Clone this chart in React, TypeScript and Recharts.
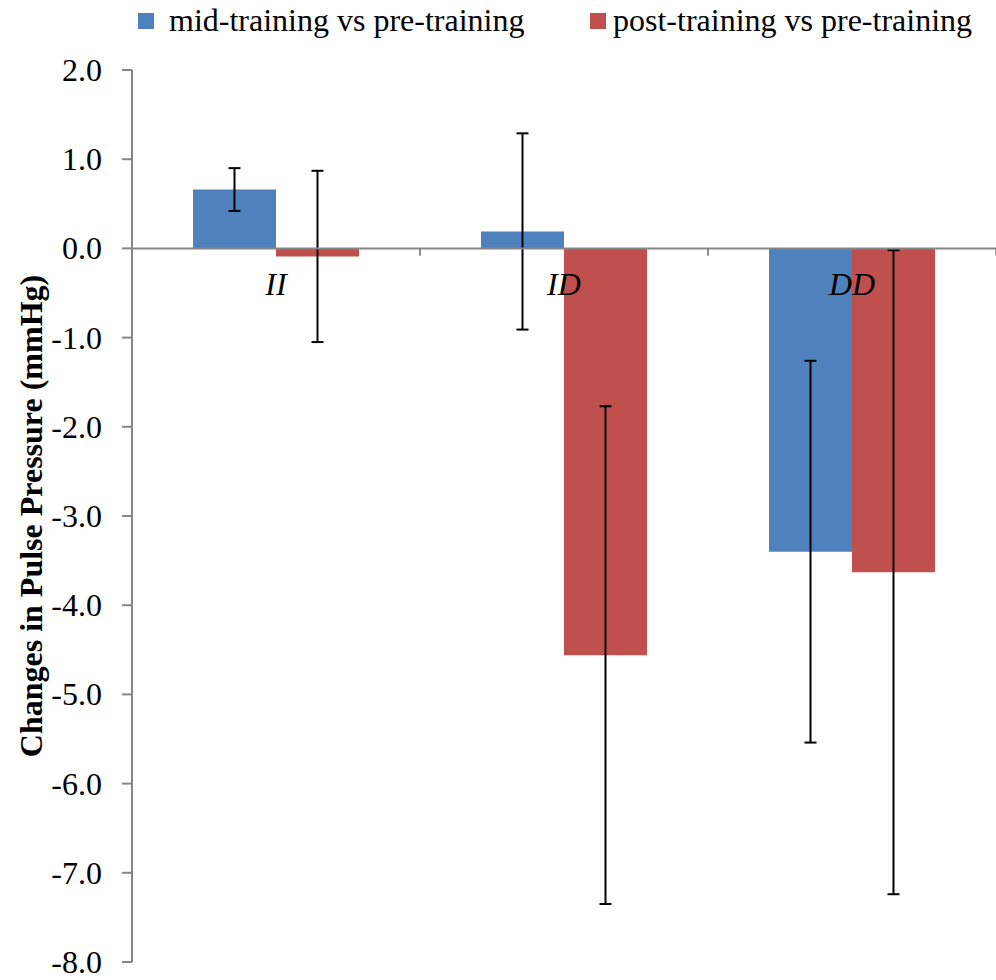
import { BarChart, Bar, XAxis, YAxis, ErrorBar, ReferenceLine } from "recharts"

const categories = ["II", "ID", "DD"]
const midValues = [0.66, 0.19, -3.4]
const midErrors = [0.24, 1.1, 2.14]
const postValues = [-0.09, -4.56, -3.63]
const postErrors = [0.96, 2.79, 3.61]
const yTicks = [2, 1, 0, -1, -2, -3, -4, -5, -6, -7, -8]
const seriesNames = ["mid-training vs pre-training", "post-training vs pre-training"]
const seriesColors = ["#4F81BD", "#C0504D"]

const data = categories.map((name, i) => ({
  name,
  mid: midValues[i],
  midErr: midErrors[i],
  post: postValues[i],
  postErr: postErrors[i],
}))

const FONT = '"Liberation Serif", "Times New Roman", serif'
const W = 996
const H = 980
const M = { top: 70, right: 0, bottom: 0, left: 0 }
const Y_AXIS_W = 132
const X_AXIS_H = 18
const PLOT_W = W - M.left - M.right - Y_AXIS_W
const PLOT_H = H - M.top - M.bottom - X_AXIS_H
const BAND = PLOT_W / categories.length
// pixel row of the zero value (domain is [-8, 2])
const ZERO_Y = M.top + PLOT_H * (2 / 10)

const CatTick = (props: any) => {
  const { x, payload } = props
  return (
    <g>
      <line x1={x - BAND / 2} x2={x - BAND / 2} y1={ZERO_Y} y2={ZERO_Y + 7} stroke="#868686" strokeWidth={1.5} />
      <line x1={x + BAND / 2} x2={x + BAND / 2} y1={ZERO_Y} y2={ZERO_Y + 7} stroke="#868686" strokeWidth={1.5} />
      <text x={x} y={ZERO_Y + 47} textAnchor="middle" fontFamily={FONT} fontSize={32} fontStyle="italic" fill="#000">
        {payload.value}
      </text>
    </g>
  )
}

const ValTick = (props: any) => {
  const { x, y, payload } = props
  return (
    <text x={x} y={y} dy={11} textAnchor="end" fontFamily={FONT} fontSize={32} fill="#000">
      {Number(payload.value).toFixed(1)}
    </text>
  )
}

const legendPos = [
  { box: 138, text: 169 },
  { box: 590, text: 613 },
]

export default function App() {
  return (
    <div style={{ position: "absolute", left: 0, top: 0, width: W, height: H, background: "#fff" }}>
      <div style={{ position: "absolute", left: 0, top: 0, width: W, height: 40, fontFamily: FONT, fontSize: 32, color: "#000" }}>
        {seriesNames.map((n, i) => (
          <div key={n}>
            <div style={{ position: "absolute", left: legendPos[i].box, top: 13, width: 16, height: 16, background: seriesColors[i] }} />
            <div style={{ position: "absolute", left: legendPos[i].text, top: 0, lineHeight: "40px", whiteSpace: "nowrap" }}>{n}</div>
          </div>
        ))}
      </div>
      <BarChart width={W} height={H} data={data} margin={M} barGap={0} barSize={83}>
        <XAxis dataKey="name" axisLine={false} tickLine={false} tick={<CatTick />} height={X_AXIS_H} interval={0} />
        <YAxis
          type="number"
          domain={[-8, 2]}
          ticks={yTicks}
          interval={0}
          width={Y_AXIS_W}
          tick={<ValTick />}
          axisLine={{ stroke: "#868686", strokeWidth: 2 }}
          tickLine={{ stroke: "#868686", strokeWidth: 2 }}
          tickSize={10}
          tickMargin={20}
          label={{
            value: "Changes in Pulse Pressure (mmHg)",
            angle: -90,
            position: "insideLeft",
            offset: 31,
            style: { fontFamily: FONT, fontSize: 32, fontWeight: "bold", fill: "#000", textAnchor: "middle" },
          }}
        />
        <Bar dataKey="mid" name={seriesNames[0]} fill={seriesColors[0]} isAnimationActive={false}>
          <ErrorBar dataKey="midErr" width={6} stroke="#000" strokeWidth={2} isAnimationActive={false} />
        </Bar>
        <Bar dataKey="post" name={seriesNames[1]} fill={seriesColors[1]} isAnimationActive={false}>
          <ErrorBar dataKey="postErr" width={6} stroke="#000" strokeWidth={2} isAnimationActive={false} />
        </Bar>
        <ReferenceLine y={0} stroke="#868686" strokeWidth={2} />
      </BarChart>
    </div>
  )
}
